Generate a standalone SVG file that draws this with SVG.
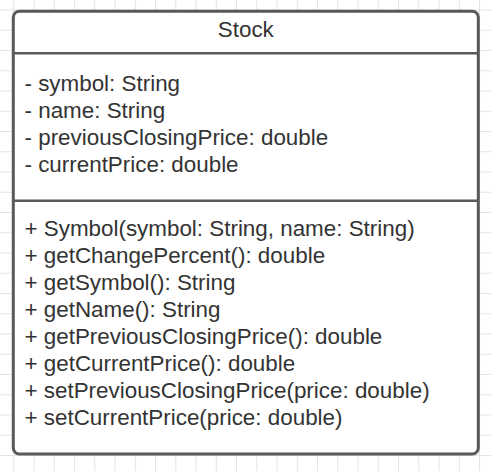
<svg xmlns="http://www.w3.org/2000/svg" width="491" height="471" viewBox="0 0 491 471">
<defs>
<pattern id="grid" x="13.3" y="9.5" width="20.25" height="20.25" patternUnits="userSpaceOnUse">
<path d="M0.5 0V20.25M0 0.5H20.25" fill="none" stroke="#e3e3e3" stroke-width="1"/>
</pattern>
</defs>
<style>
.box{fill:#ffffff;stroke:#595959;stroke-width:3}
.sep{stroke:#595959;stroke-width:2.5}
text{font-family:"Liberation Sans",Arial,sans-serif;font-size:22.4px;fill:#333333}
.title{text-anchor:middle}
</style>
<rect width="491" height="471" fill="#ffffff"/>
<rect width="491" height="471" fill="url(#grid)"/>
<g id="connectors"></g>
<g id="stock">
<rect class="box" x="13.3" y="11.3" width="465" height="442.7" rx="6" ry="6"/>
<line class="sep" x1="13.3" y1="53.3" x2="478.3" y2="53.3"/>
<line class="sep" x1="13.3" y1="200.7" x2="478.3" y2="200.7"/>
<text class="title" x="245.8" y="37">Stock</text>
<text x="24.5" y="90.7">- symbol: String</text>
<text x="24.5" y="117.7">- name: String</text>
<text x="24.5" y="144.7">- previousClosingPrice: double</text>
<text x="24.5" y="171.7">- currentPrice: double</text>
<text x="24.5" y="236">+ Symbol(symbol: String, name: String)</text>
<text x="24.5" y="263">+ getChangePercent(): double</text>
<text x="24.5" y="290">+ getSymbol(): String</text>
<text x="24.5" y="317">+ getName(): String</text>
<text x="24.5" y="344">+ getPreviousClosingPrice(): double</text>
<text x="24.5" y="371">+ getCurrentPrice(): double</text>
<text x="24.5" y="398">+ setPreviousClosingPrice(price: double)</text>
<text x="24.5" y="425">+ setCurrentPrice(price: double)</text>
</g>
</svg>
